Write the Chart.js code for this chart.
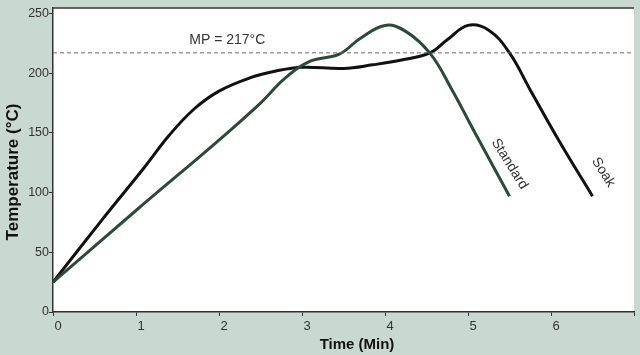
<!DOCTYPE html>
<html>
<head>
<meta charset="utf-8">
<script src="https://cdn.jsdelivr.net/npm/chart.js@4/dist/chart.umd.min.js"></script>
<style>
  html, body { margin: 0; padding: 0; background: #c9d9d2; }
  #wrap { width: 640px; height: 355px; position: relative; }
</style>
</head>
<body>
<div id="wrap"><canvas id="c" width="640" height="355"></canvas></div>
<script>
// Data
const standardTime = [0, 1, 2, 2.5, 2.8, 3.1, 3.45, 3.7, 4.0, 4.25, 4.55, 4.8, 5.1, 5.5];
const standardTemp = [25, 85, 144, 175, 196, 210, 216, 229, 240, 235, 216, 187, 148, 97];
const soakTime = [0, 0.6, 1.1, 1.4, 1.7, 2.0, 2.37, 2.7, 3.0, 3.5, 3.85, 4.2, 4.54, 4.75, 5.0, 5.25, 5.5, 5.75, 6.1, 6.5];
const soakTemp = [25, 78, 121, 148, 170, 185, 196, 202, 205, 204, 207, 211, 217, 228, 240, 236, 217, 186, 143, 97];
const meltingPoint = 217;
const mpLabel = "MP = 217°C";
const seriesNames = ["Standard", "Soak"];
const xTitle = "Time (Min)";
const yTitle = "Temperature (°C)";
const xTicks = [0, 1, 2, 3, 4, 5, 6, 7];
const yTicks = [0, 50, 100, 150, 200, 250];

const toPts = (xs, ys) => xs.map((x, i) => ({x: x, y: ys[i]}));
const FONT = '"Liberation Sans", Arial, sans-serif';

const bgPlugin = {
  id: 'bg',
  beforeDraw(chart) {
    const {ctx, chartArea: a} = chart;
    ctx.save();
    ctx.fillStyle = '#c9d9d2';
    ctx.fillRect(0, 0, chart.width, chart.height);
    ctx.fillStyle = '#ffffff';
    ctx.fillRect(a.left, a.top, a.right - a.left, a.bottom - a.top);
    ctx.restore();
  },
  afterDraw(chart) {
    const {ctx, chartArea: a, scales} = chart;
    ctx.save();
    // top border
    ctx.strokeStyle = '#333';
    ctx.lineWidth = 1.5;
    ctx.beginPath();
    ctx.moveTo(a.left, a.top + 0.5);
    ctx.lineTo(a.right, a.top + 0.5);
    ctx.stroke();
    ctx.fillStyle = '#333';
    ctx.font = '14px ' + FONT;
    ctx.textAlign = 'center';
    ctx.textBaseline = 'middle';
    ctx.fillText(mpLabel, scales.x.getPixelForValue(2.1), scales.y.getPixelForValue(228));
    const lbl = (txt, t, v) => {
      ctx.save();
      ctx.translate(scales.x.getPixelForValue(t), scales.y.getPixelForValue(v));
      ctx.rotate(58 * Math.PI / 180);
      ctx.fillText(txt, 0, 0);
      ctx.restore();
    };
    lbl(seriesNames[0], 5.5, 124);
    lbl(seriesNames[1], 6.63, 117);
    // axis titles
    ctx.fillStyle = '#111';
    ctx.font = 'bold 15px ' + FONT;
    ctx.fillText(xTitle, 357, 345);
    ctx.save();
    ctx.translate(13, 172);
    ctx.rotate(-Math.PI / 2);
    ctx.font = 'bold 17px ' + FONT;
    ctx.fillText(yTitle, 0, 0);
    ctx.restore();
    ctx.restore();
  }
};

new Chart(document.getElementById('c'), {
  type: 'line',
  data: {
    datasets: [
      {
        label: 'MP',
        data: [{x: 0, y: meltingPoint}, {x: 7, y: meltingPoint}],
        borderColor: '#666',
        borderWidth: 1,
        borderDash: [4, 3],
        pointRadius: 0,
        tension: 0
      },
      {
        label: seriesNames[0],
        data: toPts(standardTime, standardTemp),
        borderColor: '#2c4a3a',
        borderWidth: 3,
        pointRadius: 0,
        tension: 0.4
      },
      {
        label: seriesNames[1],
        data: toPts(soakTime, soakTemp),
        borderColor: '#111111',
        borderWidth: 3,
        pointRadius: 0,
        tension: 0.4
      }
    ]
  },
  options: {
    responsive: false,
    animation: false,
    devicePixelRatio: 1,
    layout: { padding: { top: 6, right: 6, left: 0, bottom: 0 } },
    plugins: { legend: { display: false }, tooltip: { enabled: false } },
    scales: {
      x: {
        type: 'linear',
        min: 0, max: 7,
        afterBuildTicks(s) { s.ticks = xTicks.map(v => ({value: v})); },
        afterFit(s) { s.height = 43; },
        grid: { drawOnChartArea: false, tickLength: 4, color: '#333' },
        border: { color: '#333', width: 1.5 },
        ticks: {
          color: '#333',
          font: { size: 13, family: FONT },
          padding: 3,
          labelOffset: 5,
          callback: (v) => v === 7 ? '' : String(v)
        }
      },
      y: {
        type: 'linear',
        min: 0, max: 255,
        afterBuildTicks(s) { s.ticks = yTicks.map(v => ({value: v})); },
        afterFit(s) { s.width = 53; },
        grid: { drawOnChartArea: false, tickLength: 4, color: '#333' },
        border: { color: '#333', width: 1.5 },
        ticks: {
          color: '#333',
          font: { size: 12.5, family: FONT },
          padding: 0
        }
      }
    }
  },
  plugins: [bgPlugin]
});
</script>
</body>
</html>
